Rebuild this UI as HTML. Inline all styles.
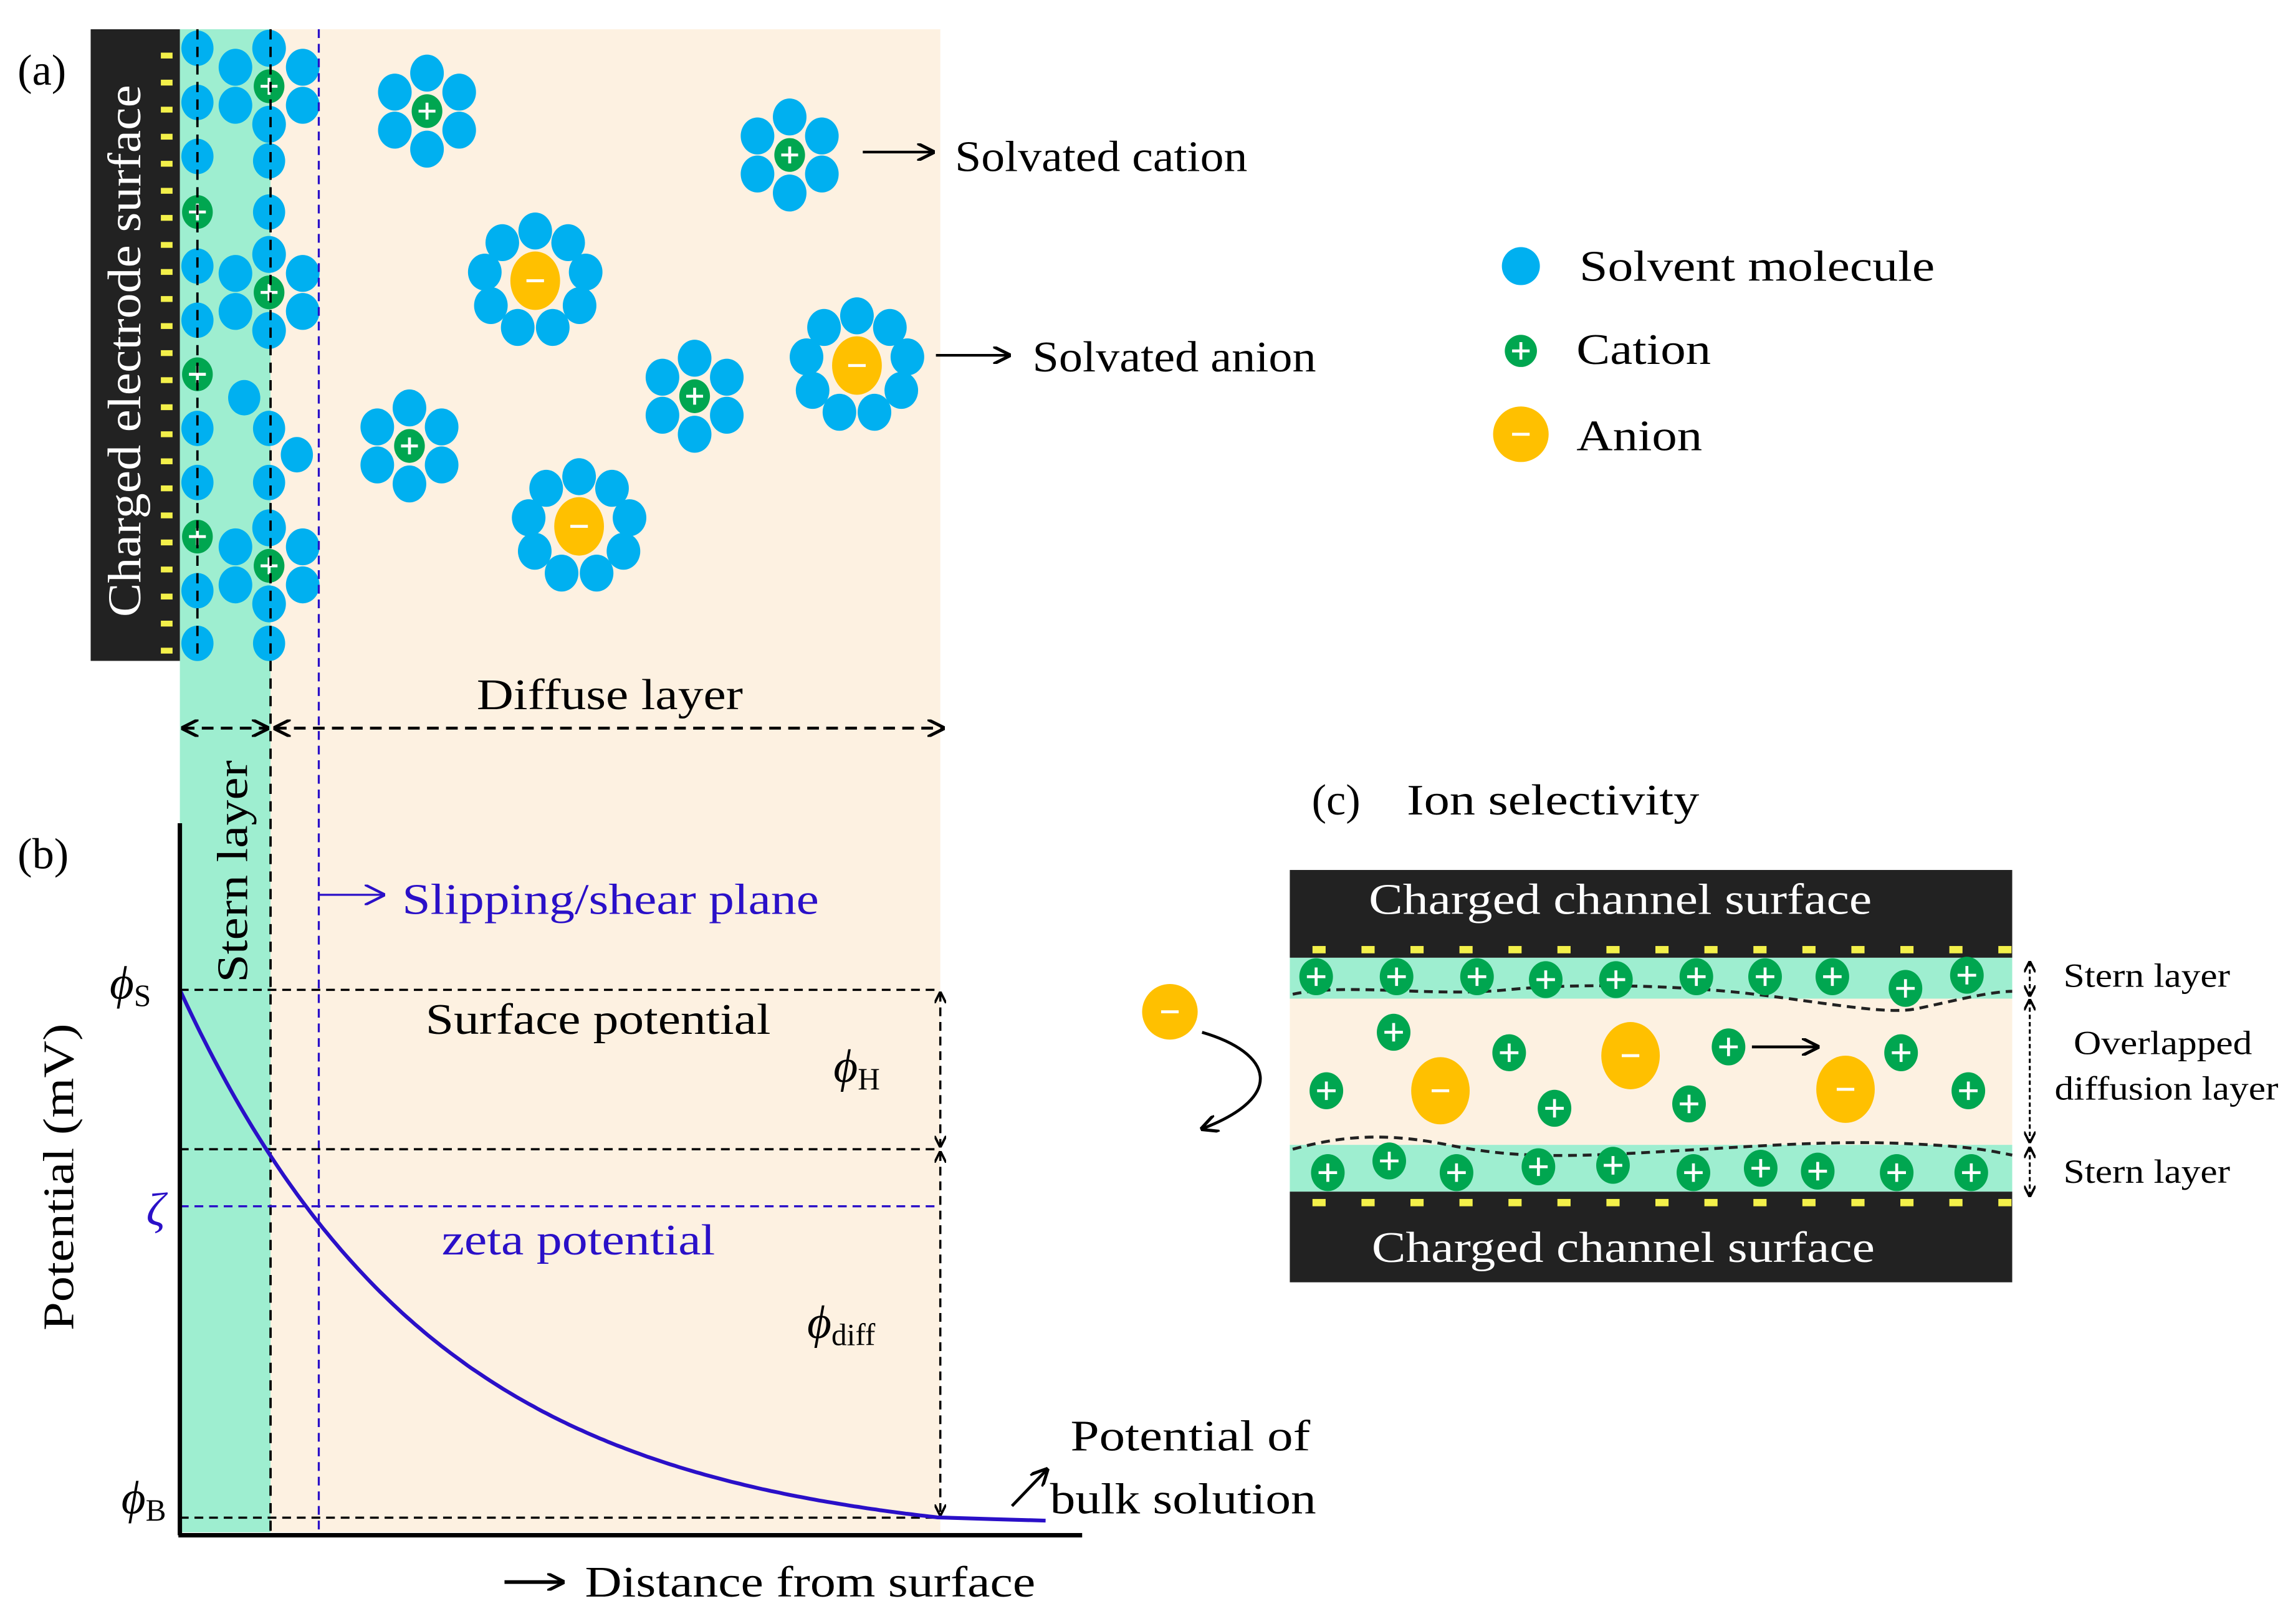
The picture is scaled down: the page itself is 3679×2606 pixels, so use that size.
<!DOCTYPE html>
<html><head><meta charset="utf-8">
<style>
html,body{margin:0;padding:0;background:#fff;}
svg{display:block;}
text{font-family:"Liberation Serif",serif;}
</style></head>
<body>
<svg id="s" width="3679" height="2606" viewBox="0 0 1568 1110.7" preserveAspectRatio="none" xmlns="http://www.w3.org/2000/svg">
<defs>
<marker id="ahb" viewBox="0 0 10 10" refX="9" refY="5" markerWidth="12" markerHeight="12" orient="auto-start-reverse" markerUnits="userSpaceOnUse"><path d="M0,0 L10,5 L0,10" fill="none" stroke="#000" stroke-width="1.8"/></marker>
<marker id="ahv" viewBox="0 0 10 10" refX="9" refY="5" markerWidth="14" markerHeight="14" orient="auto-start-reverse" markerUnits="userSpaceOnUse"><path d="M0,0 L10,5 L0,10" fill="none" stroke="#2a10c8" stroke-width="1.3"/></marker>
<marker id="ahs" viewBox="0 0 10 10" refX="9" refY="5" markerWidth="8" markerHeight="8" orient="auto-start-reverse" markerUnits="userSpaceOnUse"><path d="M0,0 L10,5 L0,10" fill="none" stroke="#000" stroke-width="2"/></marker>
</defs>
<rect x="185" y="20" width="458" height="1028" fill="#fdf1e1"/>
<rect x="123" y="20" width="62" height="1028" fill="#9eeed0"/>
<rect x="62" y="20" width="61" height="432" fill="#222"/>
<text transform="translate(96,240) rotate(-90)" text-anchor="middle" font-size="32" fill="#fff" textLength="364" lengthAdjust="spacingAndGlyphs">Charged electrode surface</text>
<g id="ydash"></g>
<g id="mol"></g>
<line x1="135" y1="20" x2="135" y2="452" stroke="#000" stroke-width="1.6" stroke-dasharray="7,5"/>
<line x1="185" y1="20" x2="185" y2="1048" stroke="#000" stroke-width="1.6" stroke-dasharray="7,5"/>
<line x1="218" y1="20" x2="218" y2="1048" stroke="#2a10c8" stroke-width="1.4" stroke-dasharray="6,4"/>

<text x="12" y="58" font-size="30">(a)</text>
<line x1="590" y1="104" x2="638" y2="104" stroke="#000" stroke-width="1.8" marker-end="url(#ahb)"/>
<text x="653" y="117" font-size="30" textLength="200" lengthAdjust="spacingAndGlyphs">Solvated cation</text>
<line x1="640" y1="243" x2="690" y2="243" stroke="#000" stroke-width="1.8" marker-end="url(#ahb)"/>
<text x="706" y="254" font-size="30" textLength="194" lengthAdjust="spacingAndGlyphs">Solvated anion</text>

<circle cx="1040" cy="182" r="13" fill="#00b0f0"/>
<text x="1080" y="192" font-size="30" textLength="243" lengthAdjust="spacingAndGlyphs">Solvent molecule</text>
<circle cx="1040" cy="240" r="11" fill="#00a650"/>
<path d="M1034,240 h12 M1040,234 v12" stroke="#fff" stroke-width="2"/>
<text x="1078" y="249" font-size="30" textLength="92" lengthAdjust="spacingAndGlyphs">Cation</text>
<circle cx="1040" cy="297" r="19" fill="#ffc000"/>
<path d="M1034,297 h12" stroke="#fff" stroke-width="2"/>
<text x="1078" y="308" font-size="30" textLength="86" lengthAdjust="spacingAndGlyphs">Anion</text>

<text x="326" y="485" font-size="30" textLength="182" lengthAdjust="spacingAndGlyphs">Diffuse layer</text>
<line x1="125" y1="498" x2="183" y2="498" stroke="#000" stroke-width="2" stroke-dasharray="8,5" marker-start="url(#ahb)" marker-end="url(#ahb)"/>
<line x1="188" y1="498" x2="645" y2="498" stroke="#000" stroke-width="2" stroke-dasharray="8,5" marker-start="url(#ahb)" marker-end="url(#ahb)"/>
<text transform="translate(169,596) rotate(-90)" text-anchor="middle" font-size="30" textLength="152" lengthAdjust="spacingAndGlyphs">Stern layer</text>

<text x="12" y="594" font-size="30">(b)</text>
<line x1="218" y1="612" x2="262" y2="612" stroke="#2a10c8" stroke-width="1.4" marker-end="url(#ahv)"/>
<text x="275" y="625" font-size="30" fill="#2a10c8" textLength="285" lengthAdjust="spacingAndGlyphs">Slipping/shear plane</text>

<line x1="123" y1="677" x2="643" y2="677" stroke="#000" stroke-width="1.5" stroke-dasharray="6,4"/>
<line x1="123" y1="786" x2="643" y2="786" stroke="#000" stroke-width="1.5" stroke-dasharray="6,4"/>
<line x1="123" y1="825" x2="643" y2="825" stroke="#2a10c8" stroke-width="1.4" stroke-dasharray="6,4"/>
<line x1="123" y1="1038" x2="643" y2="1038" stroke="#000" stroke-width="1.5" stroke-dasharray="6,4"/>
<line x1="643" y1="679" x2="643" y2="784" stroke="#000" stroke-width="1.5" stroke-dasharray="6,4" marker-start="url(#ahs)" marker-end="url(#ahs)"/>
<line x1="643" y1="788" x2="643" y2="1036" stroke="#000" stroke-width="1.5" stroke-dasharray="6,4" marker-start="url(#ahs)" marker-end="url(#ahs)"/>
<path id="curve" d="" fill="none" stroke="#2a10c8" stroke-width="2.6"/>
<line x1="123" y1="563" x2="123" y2="1050" stroke="#000" stroke-width="3"/>
<line x1="122" y1="1050" x2="740" y2="1050" stroke="#000" stroke-width="3"/>

<text x="75" y="683" font-size="32" font-style="italic">ϕ<tspan font-style="normal" font-size="21" dy="5">S</tspan></text>
<text x="291" y="707" font-size="30" textLength="236" lengthAdjust="spacingAndGlyphs">Surface potential</text>
<text x="570" y="740" font-size="32" font-style="italic">ϕ<tspan font-style="normal" font-size="21" dy="5">H</tspan></text>
<text x="100" y="838" font-size="32" font-style="italic" fill="#2a10c8">ζ</text>
<text x="302" y="858" font-size="30" fill="#2a10c8" textLength="187" lengthAdjust="spacingAndGlyphs">zeta potential</text>
<text x="552" y="915" font-size="32" font-style="italic">ϕ<tspan font-style="normal" font-size="21" dy="5">diff</tspan></text>
<text x="83" y="1035" font-size="32" font-style="italic">ϕ<tspan font-style="normal" font-size="21" dy="5">B</tspan></text>
<text transform="translate(50,805) rotate(-90)" text-anchor="middle" font-size="30" textLength="210" lengthAdjust="spacingAndGlyphs">Potential (mV)</text>
<text x="732" y="992" font-size="30" textLength="164" lengthAdjust="spacingAndGlyphs">Potential of</text>
<text x="718" y="1035" font-size="30" textLength="182" lengthAdjust="spacingAndGlyphs">bulk solution</text>
<line x1="692" y1="1030" x2="716" y2="1005" stroke="#000" stroke-width="2" marker-end="url(#ahb)"/>
<line x1="345" y1="1082" x2="385" y2="1082" stroke="#000" stroke-width="2.5" marker-end="url(#ahb)"/>
<text x="400" y="1092" font-size="30" textLength="308" lengthAdjust="spacingAndGlyphs">Distance from surface</text>

<text x="897" y="557" font-size="30">(c)</text>
<text x="962" y="557" font-size="30" textLength="200" lengthAdjust="spacingAndGlyphs">Ion selectivity</text>
<rect x="882" y="655" width="494" height="28" fill="#9eeed0"/>
<rect x="882" y="683" width="494" height="100" fill="#fdf1e1"/>
<rect x="882" y="783" width="494" height="32" fill="#9eeed0"/>
<rect x="882" y="595" width="494" height="60" fill="#222"/>
<rect x="882" y="815" width="494" height="62" fill="#222"/>
<text x="936" y="625" font-size="30" fill="#fff" textLength="344" lengthAdjust="spacingAndGlyphs">Charged channel surface</text>
<text x="938" y="863" font-size="30" fill="#fff" textLength="344" lengthAdjust="spacingAndGlyphs">Charged channel surface</text>
<path d="M884,680 C920,672 980,682 1030,677 S1150,674 1200,680 S1290,694 1310,690 S1360,678 1376,678" fill="none" stroke="#222" stroke-width="2" stroke-dasharray="6,4"/>
<path d="M884,786 C920,776 950,775 990,783 S1060,792 1130,788 S1250,780 1300,782 S1360,787 1376,790" fill="none" stroke="#222" stroke-width="2" stroke-dasharray="6,4"/>
<g id="cmol"></g>
<line x1="1198" y1="716" x2="1243" y2="716" stroke="#000" stroke-width="2" marker-end="url(#ahb)"/>
<path d="M822,706 C870,720 880,750 822,772" fill="none" stroke="#000" stroke-width="2" marker-end="url(#ahb)"/>
<g font-size="23">
<text x="1411" y="675" textLength="114" lengthAdjust="spacingAndGlyphs">Stern layer</text>
<text x="1418" y="721" textLength="122" lengthAdjust="spacingAndGlyphs">Overlapped</text>
<text x="1405" y="752" textLength="153" lengthAdjust="spacingAndGlyphs">diffusion layer</text>
<text x="1411" y="809" textLength="114" lengthAdjust="spacingAndGlyphs">Stern layer</text>
</g>
<line x1="1388" y1="658" x2="1388" y2="681" stroke="#000" stroke-width="1.3" stroke-dasharray="3,2" marker-start="url(#ahs)" marker-end="url(#ahs)"/>
<line x1="1388" y1="684" x2="1388" y2="781" stroke="#000" stroke-width="1.3" stroke-dasharray="3,2" marker-start="url(#ahs)" marker-end="url(#ahs)"/>
<line x1="1388" y1="785" x2="1388" y2="818" stroke="#000" stroke-width="1.3" stroke-dasharray="3,2" marker-start="url(#ahs)" marker-end="url(#ahs)"/>
</svg>
<script>
var NS="http://www.w3.org/2000/svg";
function el(p,t,a){var e=document.createElementNS(NS,t);for(var k in a)e.setAttribute(k,a[k]);p.appendChild(e);return e;}
var mol=document.getElementById('mol'),yd=document.getElementById('ydash'),cm=document.getElementById('cmol');
for(var y=38;y<450;y+=18.5) el(yd,'rect',{x:110,y:y-2,width:8,height:4,fill:'#f3f04a'});
function blue(g,x,y,r){el(g,'ellipse',{cx:x,cy:y,rx:r||11,ry:(r||11)*1.1,fill:'#00b0f0'});}
function cat(g,x,y,r){r=r||10;el(g,'ellipse',{cx:x,cy:y,rx:r,ry:r*1.1,fill:'#00a650'});el(g,'path',{d:'M'+(x-r*0.55)+','+y+'h'+(r*1.1)+'M'+x+','+(y-r*0.55)+'v'+(r*1.1),stroke:'#fff','stroke-width':2});}
function an(g,x,y,rx,ry){el(g,'ellipse',{cx:x,cy:y,rx:rx,ry:ry,fill:'#ffc000'});el(g,'path',{d:'M'+(x-6)+','+y+'h12',stroke:'#fff','stroke-width':2});}
function scat(x,y){var d=[[0,-26],[0,26],[-22,-13],[22,-13],[-22,13],[22,13]];d.forEach(function(p){blue(mol,x+p[0],y+p[1],11.5);});cat(mol,x,y,10.5);}
function san(x,y){for(var i=0;i<9;i++){var a=i/9*2*Math.PI-Math.PI/2;blue(mol,x+34*Math.cos(a)*1.03,y+34*Math.sin(a),11.5);}an(mol,x,y,17,20);}
[33,70,107,182,219,293,330,404,440].forEach(function(y){blue(mol,135,y,11);});
[145,256,367].forEach(function(y){cat(mol,135,y,10.5);});
[110,145,293,330,440].forEach(function(y){blue(mol,184,y,11);});
blue(mol,167,272,11);blue(mol,203,311,11);
[59,200,387].forEach(function(y){
 [[0,-26],[0,26],[-23,-13],[23,-13],[-23,13],[23,13]].forEach(function(p){blue(mol,184+p[0],y+p[1],11.5);});cat(mol,184,y,10.5);});
scat(292,76);scat(540,106);scat(475,271);scat(280,305);
san(366,192);san(586,250);san(396,360);
[[900,668],[955,668],[1010,668],[1057,670],[1105,670],[1160,668],[1207,668],[1253,668],[1303,676],[1345,667],
 [908,802],[950,794],[996,802],[1052,798],[1103,797],[1158,802],[1204,799],[1243,801],[1297,802],[1348,802],
 [953,706],[1032,720],[907,746],[1063,758],[1155,755],[1182,716],[1300,720],[1346,746]].forEach(function(p){cat(cm,p[0],p[1],11.5);});
an(cm,985,746,20,23);an(cm,1115,722,20,23);an(cm,1262,745,20,23);an(cm,800,692,19,19);
for(var x=902;x<1376;x+=33.5){el(cm,'rect',{x:x-4.5,y:647,width:9,height:5,fill:'#f3f04a'});el(cm,'rect',{x:x-4.5,y:820,width:9,height:5,fill:'#f3f04a'});}
var k=175,e=Math.exp(-520/k);
var d='M123,677';for(var x=125;x<=643;x+=3){var f=(Math.exp(-(x-123)/k)-e)/(1-e);var y=1038-361*f;d+=' L'+x+','+y.toFixed(1);}
d+=' L680,1039 L715,1040';
document.getElementById('curve').setAttribute('d',d);
</script>
</body></html>
